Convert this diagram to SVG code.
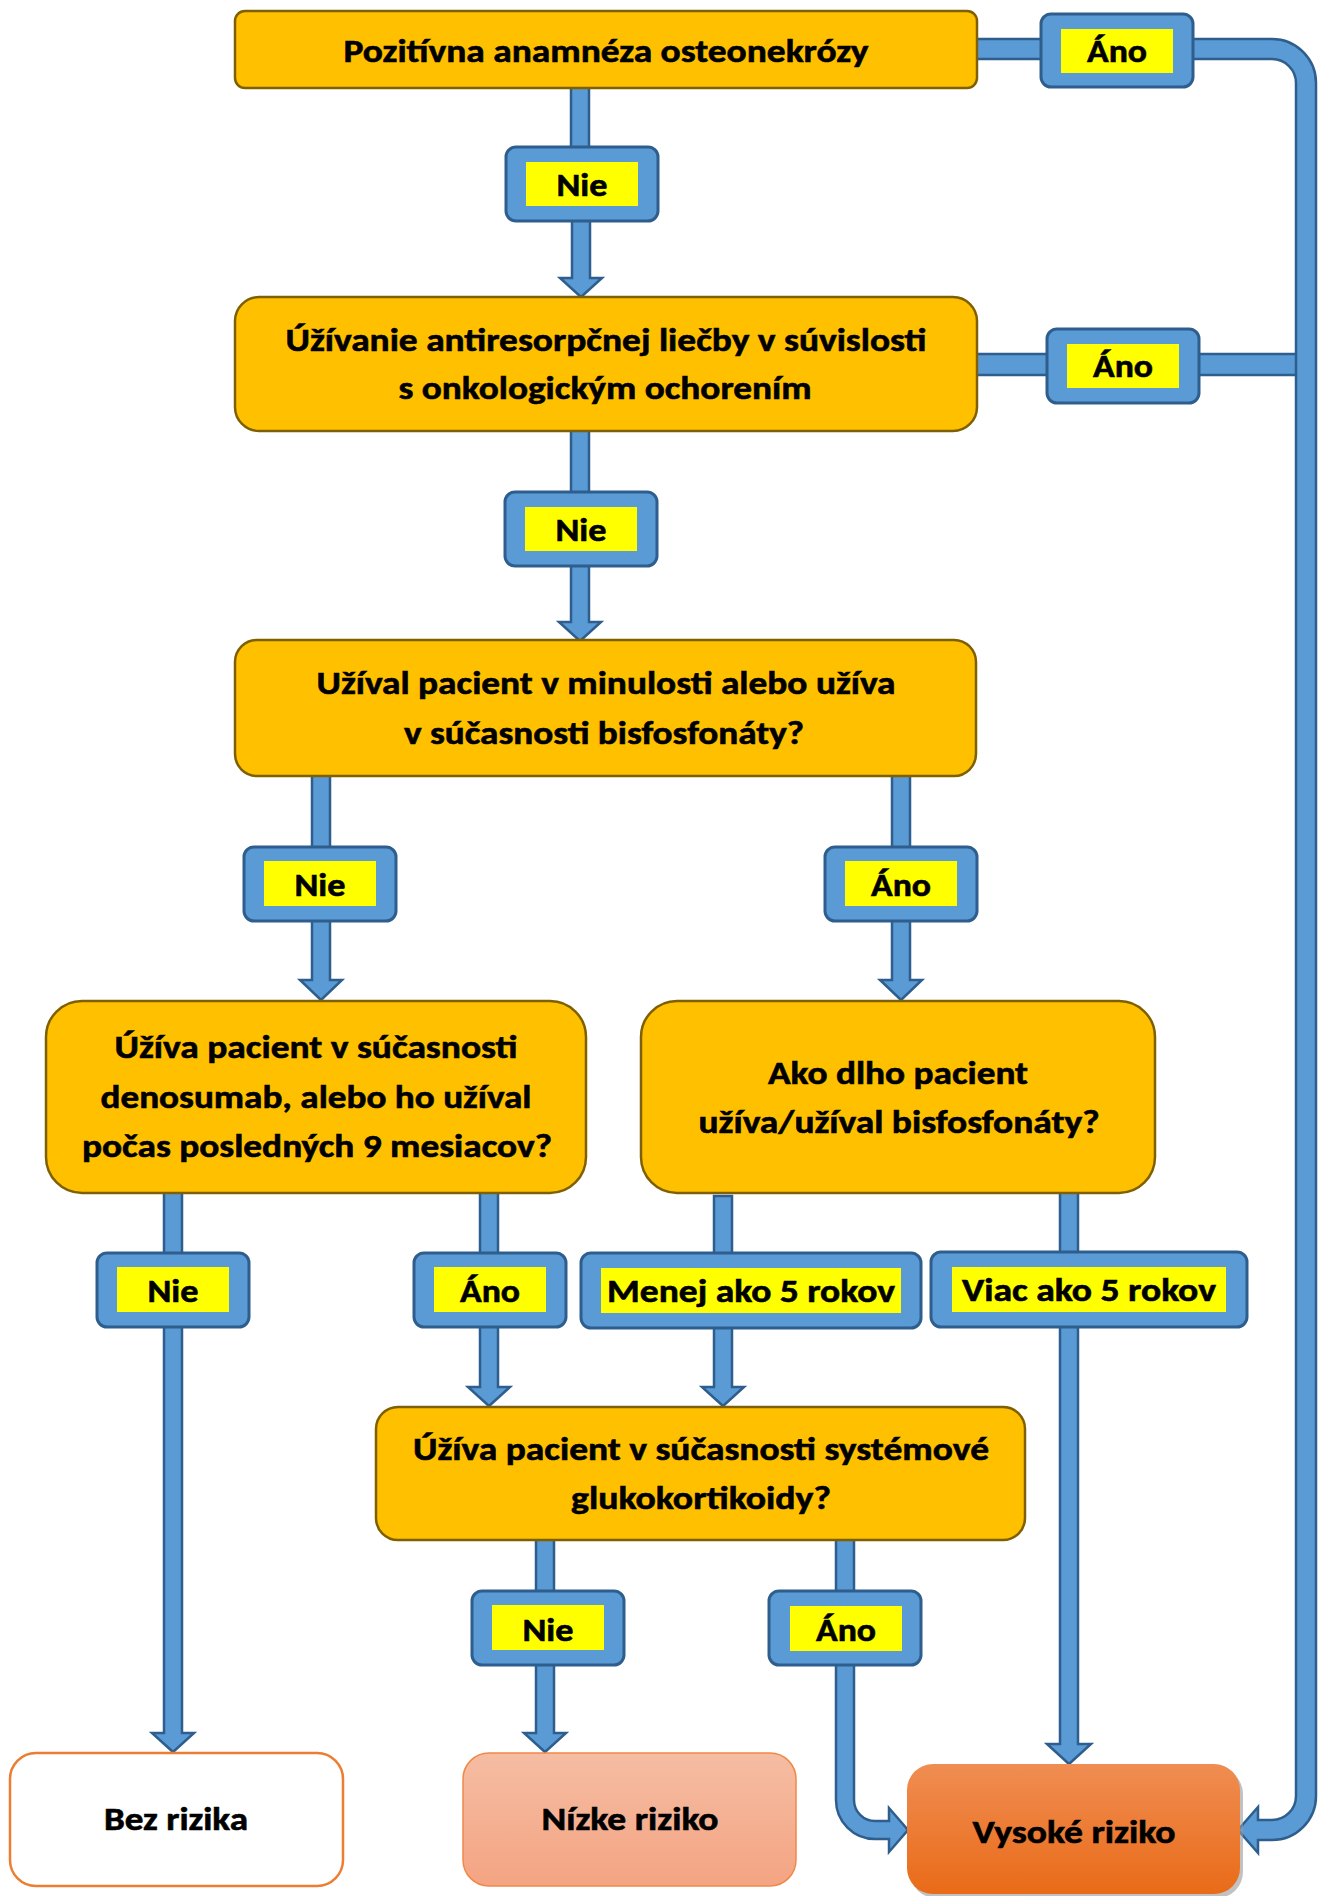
<svg xmlns="http://www.w3.org/2000/svg" width="1318" height="1896" viewBox="0 0 1318 1896">
<defs>
<style>
.box{fill:#FFC000;stroke:#7F6000;stroke-width:2.5}
.con{fill:#5B9BD5;stroke:#2E5E8E;stroke-width:2.5;stroke-linejoin:miter}
.lbl{fill:#5B9BD5;stroke:#2E5E8E;stroke-width:3}
.yel{fill:#FFFF00}
text{font-family:Carlito,Lato,"Open Sans",sans-serif;font-weight:bold;font-size:33px;fill:#000;stroke:#000;stroke-width:0.6;text-anchor:middle}
</style>
<linearGradient id="gLow" x1="0" y1="0" x2="0" y2="1"><stop offset="0" stop-color="#F5BDA3"/><stop offset="1" stop-color="#F4A482"/></linearGradient>
<linearGradient id="gHigh" x1="0" y1="0" x2="0" y2="1"><stop offset="0" stop-color="#F08D52"/><stop offset="1" stop-color="#E96B18"/></linearGradient>
</defs>
<rect width="1318" height="1896" fill="#FFFFFF"/>
<g id="connectors">
<rect class="con" x="571" y="85" width="18" height="65"/>
<rect class="con" x="970" y="39" width="75" height="20"/>
<rect class="con" x="970" y="354" width="327" height="21"/>
<rect class="con" x="571" y="425" width="18" height="70"/>
<rect class="con" x="312" y="770" width="18" height="80"/>
<rect class="con" x="892" y="770" width="18" height="80"/>
<rect class="con" x="164" y="1188" width="18" height="68"/>
<rect class="con" x="480" y="1188" width="18" height="68"/>
<rect class="con" x="714" y="1196" width="18" height="60"/>
<rect class="con" x="1060" y="1188" width="18" height="68"/>
<rect class="con" x="536" y="1535" width="18" height="59"/>
<rect class="con" x="836" y="1535" width="18" height="59"/>
<polygon class="con" points="572,218 572,278 560,278 581,297 602,278 590,278 590,218"/>
<polygon class="con" points="571,562 571,622 559,622 580,641 601,622 589,622 589,562"/>
<polygon class="con" points="312,917 312,980 300,980 321,1000 342,980 330,980 330,917"/>
<polygon class="con" points="892,917 892,980 880,980 901,1000 922,980 910,980 910,917"/>
<polygon class="con" points="164,1323 164,1733 152,1733 173,1752 194,1733 182,1733 182,1323"/>
<polygon class="con" points="480,1323 480,1387 468,1387 489,1406 510,1387 498,1387 498,1323"/>
<polygon class="con" points="714,1323 714,1387 702,1387 723,1406 744,1387 732,1387 732,1323"/>
<polygon class="con" points="1060,1323 1060,1744 1047,1744 1069,1764 1091,1744 1078,1744 1078,1323"/>
<polygon class="con" points="536,1661 536,1733 524,1733 545,1752 566,1733 554,1733 554,1661"/>
<path class="con" d="M836,1661 V1800 A39 39 0 0 0 875,1839 H889 V1852 L908,1830 L889,1808 V1821 H875 A21 21 0 0 1 854,1800 V1661 Z"/>
<path class="con" d="M1185,39 H1272 A44 44 0 0 1 1316,83 V1796 A44 44 0 0 1 1272,1840 H1258 V1853 L1238,1830 L1258,1807 V1820 H1272 A24 24 0 0 0 1296,1796 V83 A24 24 0 0 0 1272,59 H1185 Z"/>
</g>
<g id="n1"><rect class="box" x="235" y="11" width="742" height="77" rx="10"/><text x="606" y="62" textLength="525" lengthAdjust="spacingAndGlyphs">Pozitívna anamnéza osteonekrózy</text></g>
<g id="n2"><rect class="box" x="235" y="297" width="742" height="134" rx="24"/><text x="606" y="351" textLength="641" lengthAdjust="spacingAndGlyphs">Úžívanie antiresorpčnej liečby v súvislosti</text><text x="605" y="399" textLength="413" lengthAdjust="spacingAndGlyphs">s onkologickým ochorením</text></g>
<g id="n3"><rect class="box" x="235" y="640" width="741" height="136" rx="22"/><text x="606" y="694" textLength="579" lengthAdjust="spacingAndGlyphs">Užíval pacient v minulosti alebo užíva</text><text x="604" y="744" textLength="400" lengthAdjust="spacingAndGlyphs">v súčasnosti bisfosfonáty?</text></g>
<g id="n4"><rect class="box" x="46" y="1001" width="540" height="192" rx="36"/><text x="316" y="1058" textLength="403" lengthAdjust="spacingAndGlyphs">Úžíva pacient v súčasnosti</text><text x="316" y="1108" textLength="431" lengthAdjust="spacingAndGlyphs">denosumab, alebo ho užíval</text><text x="317" y="1157" textLength="470" lengthAdjust="spacingAndGlyphs">počas posledných 9 mesiacov?</text></g>
<g id="n5"><rect class="box" x="641" y="1001" width="514" height="192" rx="36"/><text x="898" y="1084" textLength="260" lengthAdjust="spacingAndGlyphs">Ako dlho pacient</text><text x="899" y="1133" textLength="401" lengthAdjust="spacingAndGlyphs">užíva/užíval bisfosfonáty?</text></g>
<g id="n6"><rect class="box" x="376" y="1407" width="649" height="133" rx="22"/><text x="701" y="1460" textLength="576" lengthAdjust="spacingAndGlyphs">Úžíva pacient v súčasnosti systémové</text><text x="701" y="1509" textLength="260" lengthAdjust="spacingAndGlyphs">glukokortikoidy?</text></g>
<g id="n7"><rect x="10" y="1753" width="333" height="133" rx="26" fill="#FFFFFF" stroke="#ED7D31" stroke-width="2.5"/><text x="176" y="1830" textLength="144" lengthAdjust="spacingAndGlyphs">Bez rizika</text></g>
<g id="n8"><rect x="463" y="1753" width="333" height="133" rx="26" fill="url(#gLow)" stroke="#F08848" stroke-width="1.5"/><text x="630" y="1830" textLength="177" lengthAdjust="spacingAndGlyphs">Nízke riziko</text></g>
<g id="n9"><rect x="910" y="1768" width="333" height="130" rx="26" fill="#9A9A9A" opacity="0.6"/><rect x="907" y="1764" width="333" height="130" rx="26" fill="url(#gHigh)"/><text x="1074" y="1843" textLength="203" lengthAdjust="spacingAndGlyphs">Vysoké riziko</text></g>
<g id="lbl-ano1"><rect class="lbl" x="1041" y="14" width="152" height="73" rx="10"/><rect class="yel" x="1061" y="29" width="112" height="44"/><text x="1117" y="62" textLength="60" lengthAdjust="spacingAndGlyphs">Áno</text></g>
<g id="lbl-nie1"><rect class="lbl" x="506" y="147" width="152" height="74" rx="10"/><rect class="yel" x="526" y="162" width="112" height="44"/><text x="582" y="196" textLength="51" lengthAdjust="spacingAndGlyphs">Nie</text></g>
<g id="lbl-ano2"><rect class="lbl" x="1047" y="329" width="152" height="74" rx="10"/><rect class="yel" x="1067" y="344" width="112" height="44"/><text x="1123" y="377" textLength="60" lengthAdjust="spacingAndGlyphs">Áno</text></g>
<g id="lbl-nie2"><rect class="lbl" x="505" y="492" width="152" height="74" rx="10"/><rect class="yel" x="525" y="507" width="112" height="44"/><text x="581" y="541" textLength="51" lengthAdjust="spacingAndGlyphs">Nie</text></g>
<g id="lbl-nie3"><rect class="lbl" x="244" y="847" width="152" height="74" rx="10"/><rect class="yel" x="264" y="861" width="112" height="45"/><text x="320" y="896" textLength="51" lengthAdjust="spacingAndGlyphs">Nie</text></g>
<g id="lbl-ano3"><rect class="lbl" x="825" y="847" width="152" height="74" rx="10"/><rect class="yel" x="845" y="861" width="112" height="45"/><text x="901" y="896" textLength="60" lengthAdjust="spacingAndGlyphs">Áno</text></g>
<g id="lbl-nie4"><rect class="lbl" x="97" y="1253" width="152" height="74" rx="10"/><rect class="yel" x="117" y="1267" width="112" height="45"/><text x="173" y="1302" textLength="51" lengthAdjust="spacingAndGlyphs">Nie</text></g>
<g id="lbl-ano4"><rect class="lbl" x="414" y="1253" width="152" height="74" rx="10"/><rect class="yel" x="434" y="1267" width="112" height="45"/><text x="490" y="1302" textLength="60" lengthAdjust="spacingAndGlyphs">Áno</text></g>
<g id="lbl-menej"><rect class="lbl" x="581" y="1253" width="340" height="75" rx="10"/><rect class="yel" x="601" y="1268" width="300" height="45"/><text x="751" y="1302" textLength="288" lengthAdjust="spacingAndGlyphs">Menej ako 5 rokov</text></g>
<g id="lbl-viac"><rect class="lbl" x="931" y="1252" width="316" height="75" rx="10"/><rect class="yel" x="952" y="1267" width="274" height="45"/><text x="1089" y="1301" textLength="254" lengthAdjust="spacingAndGlyphs">Viac ako 5 rokov</text></g>
<g id="lbl-nie5"><rect class="lbl" x="472" y="1591" width="152" height="74" rx="10"/><rect class="yel" x="492" y="1605" width="112" height="45"/><text x="548" y="1641" textLength="51" lengthAdjust="spacingAndGlyphs">Nie</text></g>
<g id="lbl-ano5"><rect class="lbl" x="769" y="1591" width="152" height="74" rx="10"/><rect class="yel" x="790" y="1606" width="112" height="45"/><text x="846" y="1641" textLength="60" lengthAdjust="spacingAndGlyphs">Áno</text></g>
</svg>
